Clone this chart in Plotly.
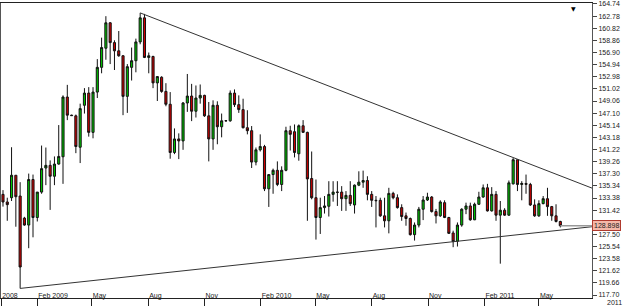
import pandas as pd
import plotly.graph_objects as go

# ---- data (weekly candles) ----
start_date = "2008-12-07"
opens = [133.97,132.74,133.43,137.06,133.70,130.13,129.01,136.37,130.23,134.34,
         138.23,138.66,136.90,138.87,140.05,149.70,146.77,146.66,141.59,148.37,
         150.34,143.99,150.50,154.50,157.59,161.70,158.50,157.17,156.37,149.81,
         154.50,155.57,158.61,162.50,156.10,156.26,151.99,152.90,150.61,148.53,
         140.74,142.93,142.61,148.74,149.86,147.41,149.54,149.97,146.66,142.93,
         148.37,144.90,145.86,145.86,150.34,148.47,147.67,144.74,144.26,139.19,
         141.17,141.70,134.87,137.17,137.86,135.57,137.86,144.26,144.10,140.53,
         145.06,143.99,136.53,133.43,130.23,131.83,132.05,133.97,134.34,134.34,
         133.27,133.81,132.26,135.46,135.94,136.21,133.97,133.01,133.01,130.50,
         129.70,134.13,133.43,131.83,130.50,130.07,127.46,129.01,131.57,133.06,
         133.54,131.19,130.50,132.63,130.23,127.73,126.39,129.01,131.57,132.10,
         129.86,132.37,133.54,135.03,131.30,133.97,130.61,131.41,130.61,135.67,
         139.57,135.57,135.73,135.57,132.26,130.50,132.47,133.27,131.99,130.50,
         129.59]
highs = [134.66,133.43,141.59,137.06,135.94,130.34,137.33,137.17,134.34,141.86,
         141.54,139.46,140.10,145.17,149.97,151.67,146.85,146.87,148.63,151.14,
         151.30,151.30,155.83,159.30,162.77,161.81,158.87,160.37,156.47,155.03,
         157.70,159.14,163.30,163.14,156.90,156.37,153.06,153.06,151.94,150.50,
         144.63,143.83,148.90,153.43,151.83,151.57,151.73,150.07,148.90,149.17,
         149.01,147.03,145.97,150.77,150.93,149.97,149.43,147.57,145.01,141.54,
         143.67,141.97,137.17,138.13,139.30,138.50,144.90,145.06,145.27,145.27,
         145.97,144.10,140.90,136.37,133.43,133.70,136.10,136.10,136.10,135.30,
         134.50,136.10,135.57,137.70,137.81,136.90,134.50,133.70,133.43,133.43,
         135.03,134.39,133.97,132.37,131.03,130.23,129.43,131.94,133.70,134.23,
         133.70,131.62,133.01,133.01,130.34,128.10,129.43,131.73,132.63,132.63,
         132.63,134.39,135.57,135.67,135.14,134.50,132.90,131.73,136.21,139.83,
         139.57,136.10,137.17,135.83,133.17,133.01,133.70,135.03,132.10,132.37,
         129.70]
lows = [131.99,129.70,132.90,128.74,118.77,128.90,125.27,127.03,129.59,134.07,
        135.46,131.46,135.46,138.77,135.67,145.97,146.65,140.63,139.03,147.03,
        143.30,143.03,149.54,153.54,155.73,155.03,154.07,156.21,146.77,147.14,
        152.37,153.70,158.23,156.00,153.54,151.14,149.06,150.39,148.21,139.73,
        140.47,139.67,141.17,147.30,145.81,146.39,148.63,146.50,139.30,141.17,
        142.07,143.19,145.70,145.70,148.10,147.14,144.63,143.67,138.23,138.66,
        140.90,134.50,131.94,134.07,135.30,134.50,137.70,141.06,139.94,139.41,
        143.94,129.70,133.17,126.66,127.57,130.87,130.39,132.79,132.10,131.30,
        131.30,132.10,130.87,135.30,135.03,133.01,131.94,128.63,130.34,128.63,
        127.67,133.17,131.67,129.70,128.90,127.30,126.50,128.63,129.81,132.90,
        131.03,129.27,130.34,130.13,127.57,125.43,125.54,128.74,130.77,129.70,
        129.81,132.26,133.43,131.19,131.19,129.70,122.77,130.50,130.50,135.57,
        134.50,133.01,134.07,132.10,130.34,130.34,132.37,130.50,129.70,129.43,
        128.63]
closes = [132.74,132.31,137.06,133.59,122.23,129.01,136.37,130.23,134.34,138.13,
          138.66,136.90,138.87,140.10,149.70,146.77,146.70,141.70,147.83,150.34,
          143.99,150.50,154.50,157.70,161.70,158.50,157.17,156.37,149.81,154.61,
          155.57,158.61,162.50,156.10,156.37,151.99,153.01,150.61,148.53,140.74,
          142.93,142.61,148.74,149.86,147.41,149.54,149.97,146.66,142.93,148.37,
          144.90,145.86,145.88,150.34,148.47,147.67,144.74,144.26,139.19,141.17,
          141.70,134.87,137.17,137.86,135.57,137.86,144.26,143.67,140.74,145.06,
          143.99,136.47,133.43,130.23,131.83,132.10,133.97,134.34,134.30,133.27,
          133.81,132.47,135.46,135.94,136.21,133.97,133.01,132.95,130.50,129.70,
          134.13,133.43,131.83,130.39,130.07,127.46,129.01,131.57,133.06,133.54,
          131.19,130.50,132.74,130.23,127.67,126.34,129.01,131.57,132.10,129.86,
          132.37,133.54,135.03,131.30,133.97,130.61,131.41,130.61,135.83,139.57,
          135.57,135.73,135.60,132.26,130.50,132.47,133.27,131.99,130.50,129.59,
          128.898]

# trend lines (date, price)
upper_dates = ["2009-07-19 00:00", "2011-07-26 17:00"]
upper_prices = [163.30, 134.98]
lower_dates = ["2009-01-04 00:00", "2011-07-26 17:00"]
lower_prices = [118.77, 128.74]

x_range = ["2008-12-03 18:00", "2011-07-26 17:00"]
y_range = [117.22, 164.90]

tick_dates = ["2008-12-04", "2009-02-01", "2009-05-01", "2009-08-01", "2009-11-01",
              "2010-02-01", "2010-05-01", "2010-08-01", "2010-11-01",
              "2011-02-01", "2011-05-01"]
tick_labels = ["2008", "Feb 2009", "May", "Aug", "Nov", "Feb 2010", "May",
               "Aug", "Nov", "Feb 2011", "May"]

y_tick_values = [117.70, 119.66, 121.62, 123.58, 125.54, 127.50, 129.46, 131.42,
                 133.38, 135.34, 137.30, 139.26, 141.22, 143.18, 145.14, 147.10,
                 149.06, 151.02, 152.98, 154.94, 156.90, 158.86, 160.82, 162.78,
                 164.74]
# the 129.46 label is hidden behind the current-price box in the chart
y_tick_labels = ["117.70", "119.66", "121.62", "123.58", "125.54", "127.50", "",
                 "131.42", "133.38", "135.34", "137.30", "139.26", "141.22",
                 "143.18", "145.14", "147.10", "149.06", "151.02", "152.98",
                 "154.94", "156.90", "158.86", "160.82", "162.78", "164.74"]

dates = pd.date_range(start_date, periods=len(closes), freq="7D")
last_close = closes[-1]

fig = go.Figure()
fig.add_trace(go.Candlestick(
    x=dates, open=opens, high=highs, low=lows, close=closes,
    increasing=dict(line=dict(color="#111111", width=1), fillcolor="#00c400"),
    decreasing=dict(line=dict(color="#111111", width=1), fillcolor="#cc0000"),
    whiskerwidth=0, hoverinfo="skip", showlegend=False))

fig.add_trace(go.Scatter(x=upper_dates, y=upper_prices, mode="lines",
                         line=dict(color="#333333", width=1), showlegend=False,
                         hoverinfo="skip"))
fig.add_trace(go.Scatter(x=lower_dates, y=lower_prices, mode="lines",
                         line=dict(color="#333333", width=1), showlegend=False,
                         hoverinfo="skip"))
# current price line
fig.add_trace(go.Scatter(x=[dates[-1].strftime("%Y-%m-%d"), x_range[1]],
                         y=[last_close, last_close],
                         mode="lines", line=dict(color="#999999", width=1.5),
                         showlegend=False, hoverinfo="skip"))

fig.add_annotation(x=1, xref="paper", y=last_close, yref="y", text=f"{last_close:.3f}",
                   xanchor="left", yanchor="middle", showarrow=False,
                   font=dict(family="Liberation Sans", size=7, color="#222222"),
                   bgcolor="#f5b8a8", bordercolor="#b03a2e", borderwidth=1, borderpad=1)
fig.add_annotation(x=1.054, xref="paper", y=-0.014, yref="paper", text="2011",
                   xanchor="right", yanchor="middle", showarrow=False,
                   font=dict(family="Liberation Sans", size=7, color="#222222"))
# small scroll marker at the top edge
fig.add_annotation(x=0.969, xref="paper", y=1.0, yref="paper", text="▼",
                   xanchor="center", yanchor="top", showarrow=False,
                   font=dict(family="DejaVu Sans", size=6, color="#000000"))

fig.update_layout(
    width=625, height=306,
    margin=dict(l=1, r=33, t=3, b=8, pad=0),
    paper_bgcolor="white", plot_bgcolor="white",
    showlegend=False, hovermode=False,
    xaxis=dict(type="date", range=x_range, rangeslider=dict(visible=False),
               tickvals=tick_dates, ticktext=tick_labels,
               ticks="outside", ticklen=8, tickcolor="#222222", tickwidth=1,
               ticklabelposition="outside right", ticklabelstandoff=-9,
               tickfont=dict(family="Liberation Sans", size=7, color="#222222"),
               showgrid=False, zeroline=False, showline=True, linecolor="#222222",
               linewidth=1, mirror=True, automargin=False, fixedrange=True),
    yaxis=dict(side="right", range=y_range, tickvals=y_tick_values,
               ticktext=y_tick_labels, ticks="outside", ticklen=4,
               tickcolor="#444444", ticklabeloverflow="allow",
               tickfont=dict(family="Liberation Sans", size=7, color="#222222"),
               showgrid=False, zeroline=False, showline=True, linecolor="#555555",
               linewidth=1, mirror=True, automargin=False, fixedrange=True),
)

fig.write_html("out.html")
